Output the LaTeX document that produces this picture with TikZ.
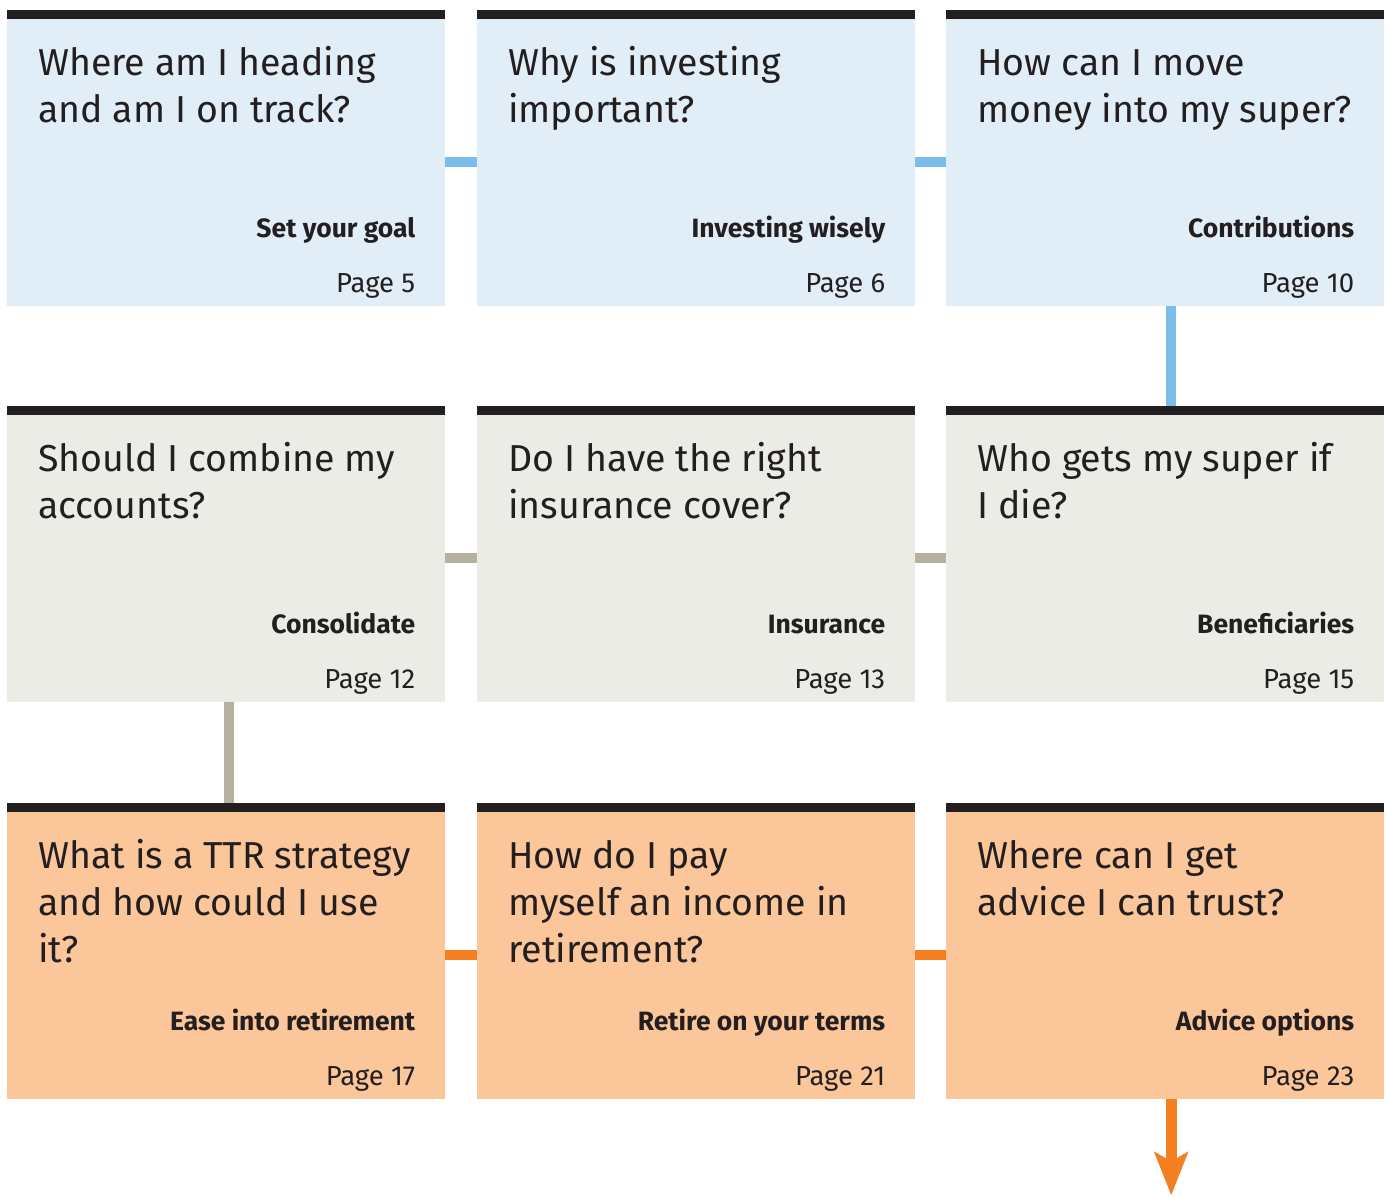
\documentclass[tikz,border=0pt]{standalone}
\usepackage{fontspec}
\setmainfont{Fira Sans}
\usetikzlibrary{arrows.meta}

\definecolor{barblack}{HTML}{231F20}
\definecolor{bluefill}{HTML}{E1EEF8}
\definecolor{blueline}{HTML}{7ABDE8}
\definecolor{greyfill}{HTML}{ECECE7}
\definecolor{greyline}{HTML}{B5B39E}
\definecolor{orangefill}{HTML}{FBC69A}
\definecolor{orangeline}{HTML}{F47F20}

\tikzset{
  box width/.store in=\BoxW,
  box height/.store in=\BoxH,
  bar height/.store in=\BarH,
  box width=438,
  box height=296,
  bar height=9,
  topic/.style={rectangle, inner sep=0pt, anchor=north west,
    minimum width=\BoxW pt, minimum height=\BoxH pt},
  question/.style={anchor=north west, inner sep=0pt, align=left,
    font=\fontsize{37.5}{47}\selectfont, text=barblack},
  section/.style={anchor=base east, inner sep=0pt,
    font=\fontsize{26.5}{30}\selectfont\bfseries, text=barblack},
  pageno/.style={anchor=base east, inner sep=0pt,
    font=\fontsize{27.5}{30}\selectfont, text=barblack},
  link/.style={line width=10pt}
}

% one topic card: name, x, y, fill, question, section, page
% (the strut fixes the first baseline 30pt under the node top)
\newcommand\TopicBox[7]{%
  \node[topic, fill=#4] (#1) at (#2,#3) {};
  \fill[barblack] (#1.north west) rectangle ([yshift=-\BarH pt]#1.north east);
  \node[question] (#1-q) at ([xshift=31pt,yshift=-35pt]#1.north west)
    {\rule{0pt}{30pt}#5};
  \node[section] (#1-s) at ([xshift=-30pt,yshift=-227pt]#1.north east) {#6};
  \node[pageno] (#1-p) at ([xshift=-30pt,yshift=-282pt]#1.north east) {Page #7};
}

\begin{document}
\begin{tikzpicture}[x=1pt, y=-1pt]
  \useasboundingbox (0,0) rectangle (1389,1197);

  % first row
  \TopicBox{goal}{7}{10}{bluefill}{Where am I heading\\and am I on track?}{Set your goal}{5}
  \TopicBox{invest}{477}{10}{bluefill}{Why is investing\\important?}{Investing wisely}{6}
  \TopicBox{contrib}{946}{10}{bluefill}{How can I move\\money into my super?}{Contributions}{10}

  % second row
  \TopicBox{consol}{7}{406}{greyfill}{Should I combine my\\accounts?}{Consolidate}{12}
  \TopicBox{insur}{477}{406}{greyfill}{Do I have the right\\insurance cover?}{Insurance}{13}
  \TopicBox{benef}{946}{406}{greyfill}{Who gets my super if\\I die?}{Beneficiaries}{15}

  % third row
  \TopicBox{ttr}{7}{803}{orangefill}{What is a TTR strategy\\and how could I use\\it?}{Ease into retirement}{17}
  \TopicBox{income}{477}{803}{orangefill}{How do I pay\\myself an income in\\retirement?}{Retire on your terms}{21}
  \TopicBox{advice}{946}{803}{orangefill}{Where can I get\\advice I can trust?}{Advice options}{23}

  % joins along each row
  \draw[link, blueline] ([yshift=-4pt]goal.east) -- ([yshift=-4pt]invest.west);
  \draw[link, blueline] ([yshift=-4pt]invest.east) -- ([yshift=-4pt]contrib.west);
  \draw[link, greyline] ([yshift=-4pt]consol.east) -- ([yshift=-4pt]insur.west);
  \draw[link, greyline] ([yshift=-4pt]insur.east) -- ([yshift=-4pt]benef.west);
  \draw[link, orangeline] ([yshift=-4pt]ttr.east) -- ([yshift=-4pt]income.west);
  \draw[link, orangeline] ([yshift=-4pt]income.east) -- ([yshift=-4pt]advice.west);

  % joins between rows
  \draw[link, blueline] ([xshift=6pt]contrib.south) -- ([xshift=6pt]benef.north);
  \draw[link, greyline] ([xshift=3pt]consol.south) -- ([xshift=3pt]ttr.north);

  % way out
  \coordinate (next) at ([xshift=6pt,yshift=-96pt]advice.south);
  \draw[line width=11pt, orangeline, -{Stealth[length=43pt,width=33pt,inset=9pt]}]
    ([xshift=6pt]advice.south) -- (next);
\end{tikzpicture}
\end{document}
